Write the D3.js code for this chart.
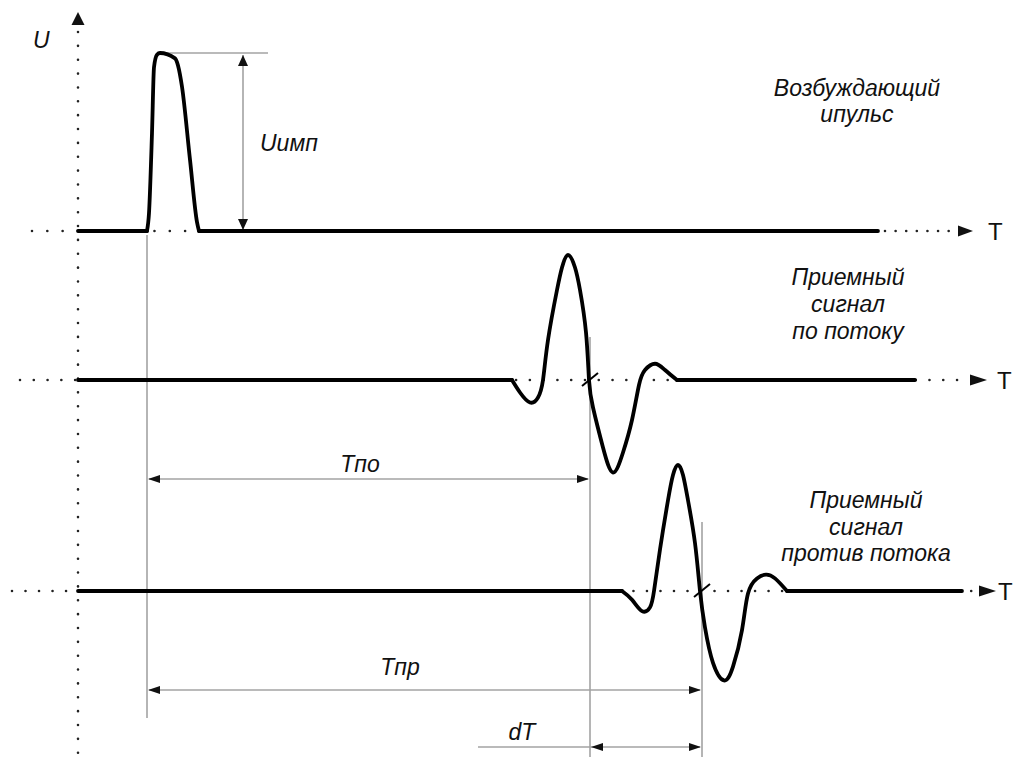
<!DOCTYPE html>
<html><head><meta charset="utf-8">
<script src="https://cdn.jsdelivr.net/npm/d3@7"></script>
<style>
html,body{margin:0;padding:0;background:#fff;}
svg{display:block;}
text{font-family:"Liberation Sans",Arial,sans-serif;fill:#111;}
</style></head>
<body>
<svg id="c" width="1013" height="761"></svg>
<script>
// ---------- data (time in arbitrary units, amplitude normalised) ----------
// excitation pulse
const pulseT = [0, 6.9, 7.1, 7.4, 7.6, 7.9, 8.2, 9.7, 10.0, 10.4, 11.2, 11.9, 12.1, 80.0];
const pulseU = [0, 0, 0.10, 0.55, 0.92, 0.99, 1.0, 0.97, 0.93, 0.81, 0.40, 0.05, 0, 0];
// received signal, downstream ("по потоку")
const sigPoT = [0, 43.4, 44.2, 45.2, 46.0, 46.5, 47.0, 47.9, 48.4, 49.0, 49.7, 50.2, 50.8, 51.1, 51.5, 52.5, 53.5, 54.5, 55.4, 56.1, 56.7, 57.7, 58.7, 59.9, 83.7];
const sigPoU = [0, 0, -0.10, -0.18, -0.14, 0, 0.32, 0.72, 0.90, 1.0, 0.90, 0.72, 0.38, 0, -0.22, -0.54, -0.74, -0.58, -0.32, -0.04, 0.08, 0.13, 0.08, 0, 0];
// received signal, upstream ("против потока")
const sigPrT = [0, 54.4, 55.4, 56.4, 57.2, 57.6, 58.2, 59.0, 59.5, 60.0, 60.5, 61.0, 61.7, 62.2, 62.7, 63.5, 64.6, 65.5, 66.4, 67.0, 67.9, 68.8, 69.7, 70.9, 88.4];
const sigPrU = [0, 0, -0.07, -0.16, -0.13, 0, 0.33, 0.72, 0.92, 1.0, 0.92, 0.72, 0.38, 0, -0.29, -0.57, -0.71, -0.60, -0.31, -0.02, 0.10, 0.13, 0.10, 0, 0];
// time markers
const markerNames = ["start", "Tпо", "Tпр"];
const markerT = [6.9, 51.2, 62.4];
// labels
const titlePulse = ["Возбуждающий", "ипульс"];
const titlePo = ["Приемный", "сигнал", "по потоку"];
const titlePr = ["Приемный", "сигнал", "против потока"];

// ---------- scales ----------
const svg = d3.select("#c");
const x = d3.scaleLinear().domain([0, 93.5]).range([78, 1013]);
const yP = d3.scaleLinear().domain([0, 1]).range([231, 53]);
const y1 = d3.scaleLinear().domain([0, 1]).range([380, 255]);
const y2 = d3.scaleLinear().domain([0, 1]).range([591, 465]);

const GRAY = "#a3a3a3";

function tri(x0, y0, dir, len, hw) {
  let p;
  if (dir === "r") p = [[x0, y0], [x0 - len, y0 - hw], [x0 - len, y0 + hw]];
  if (dir === "l") p = [[x0, y0], [x0 + len, y0 - hw], [x0 + len, y0 + hw]];
  if (dir === "u") p = [[x0, y0], [x0 - hw, y0 + len], [x0 + hw, y0 + len]];
  if (dir === "d") p = [[x0, y0], [x0 - hw, y0 - len], [x0 + hw, y0 - len]];
  svg.append("path").attr("d", "M" + p.map(d => d.join(",")).join("L") + "Z").attr("fill", "#111");
}
function dotted(x1, y1_, x2, y2_, gap) {
  svg.append("line").attr("x1", x1).attr("y1", y1_).attr("x2", x2).attr("y2", y2_)
    .attr("stroke", "#222").attr("stroke-width", 2.6).attr("stroke-linecap", "round")
    .attr("stroke-dasharray", "0.01," + gap);
}

// ---------- axes (dotted) ----------
const x0 = x(0);
dotted(x0, 32, x0, 761, 13.85);
tri(x0, 12, "u", 13, 6.5);
svg.append("text").attr("x", 33).attr("y", 48).attr("font-size", 23).attr("font-style", "italic").text("U");

// row 1 axis
dotted(32, yP(0), x(80), yP(0), 15.3);
dotted(885, yP(0), 950, yP(0), 10.6);
tri(973, yP(0), "r", 15, 5.5);
svg.append("text").attr("x", 988).attr("y", yP(0) + 9).attr("font-size", 24).text("T");
// row 2 axis
dotted(20, y1(0), 970, y1(0), 13.77);
tri(987, y1(0), "r", 17, 5.5);
svg.append("text").attr("x", 997).attr("y", y1(0) + 9).attr("font-size", 24).text("T");
// row 3 axis
dotted(12, y2(0), 977, y2(0), 13.5);
tri(996, y2(0), "r", 17, 5.5);
svg.append("text").attr("x", 998).attr("y", y2(0) + 9).attr("font-size", 24).text("T");

// ---------- gray construction lines ----------
const gl = (a, b, c, d) => svg.append("line").attr("x1", a).attr("y1", b).attr("x2", c).attr("y2", d)
  .attr("stroke", GRAY).attr("stroke-width", 1.6);
gl(x(markerT[0]), yP(0) + 4, x(markerT[0]), 718);
gl(x(markerT[1]), 337, x(markerT[1]), 757);
gl(x(markerT[2]), 522, x(markerT[2]), 757);
// Uимп
gl(x(8.2), yP(1), 268, yP(1));
gl(243, yP(1) + 2, 243, yP(0) - 2);
tri(243, yP(1) + 2, "u", 11, 5);
tri(243, yP(0) - 1, "d", 11, 5);
svg.append("text").attr("x", 260).attr("y", 151).attr("font-size", 23).attr("font-style", "italic").text("Uимп");
// Tпо
gl(x(markerT[0]) + 2, 479, x(markerT[1]) - 2, 479);
tri(x(markerT[0]) + 1, 479, "l", 12, 4);
tri(x(markerT[1]) - 1, 479, "r", 12, 4);
svg.append("text").attr("x", 360).attr("y", 472).attr("font-size", 23).attr("font-style", "italic").attr("text-anchor", "middle").text("Tпо");
// Tпр
gl(x(markerT[0]) + 2, 690, x(markerT[2]) - 2, 690);
tri(x(markerT[0]) + 1, 690, "l", 12, 4);
tri(x(markerT[2]) - 1, 690, "r", 12, 4);
svg.append("text").attr("x", 400).attr("y", 675).attr("font-size", 23).attr("font-style", "italic").attr("text-anchor", "middle").text("Tпр");
// dT
gl(478, 747, x(markerT[2]) - 2, 747);
tri(x(markerT[1]) + 1, 747, "l", 12, 4);
tri(x(markerT[2]) - 1, 747, "r", 12, 4);
svg.append("text").attr("x", 522).attr("y", 740).attr("font-size", 23).attr("font-style", "italic").attr("text-anchor", "middle").text("dT");

// ---------- signals ----------
// flat lead-in / lead-out drawn straight, the waveform itself with a smooth spline
function trace(T, U, ys, curve) {
  const pts = T.map((t, i) => [t, U[i]]);
  const n = pts.length;
  const straight = d3.line().x(d => x(d[0])).y(d => ys(d[1]));
  const smooth = d3.line().x(d => x(d[0])).y(d => ys(d[1])).curve(curve);
  const g = svg.append("g").attr("fill", "none").attr("stroke", "#000")
    .attr("stroke-width", 3.8).attr("stroke-linejoin", "round").attr("stroke-linecap", "round");
  g.append("path").attr("d", straight([pts[0], pts[1]]));
  g.append("path").attr("d", smooth(pts.slice(1, n - 1)));
  g.append("path").attr("d", straight([pts[n - 2], pts[n - 1]]));
}
trace(pulseT, pulseU, yP, d3.curveMonotoneX);
trace(sigPoT, sigPoU, y1, d3.curveNatural);
trace(sigPrT, sigPrU, y2, d3.curveNatural);

// zero-crossing ticks
const tick = (t, ys) => svg.append("line").attr("x1", x(t) - 7).attr("y1", ys(0) + 6).attr("x2", x(t) + 9).attr("y2", ys(0) - 7)
  .attr("stroke", "#000").attr("stroke-width", 2);
tick(markerT[1] - 0.1, y1);
tick(markerT[2] - 0.1, y2);

// ---------- titles ----------
function title(lines, cx, y0, dy) {
  lines.forEach((s, i) => svg.append("text").attr("x", cx).attr("y", y0 + i * dy)
    .attr("font-size", 23).attr("font-style", "italic").attr("text-anchor", "middle").text(s));
}
title(titlePulse, 857, 96, 26);
title(titlePo, 848, 285, 27);
title(titlePr, 866, 508, 26.5);
</script>
</body></html>
